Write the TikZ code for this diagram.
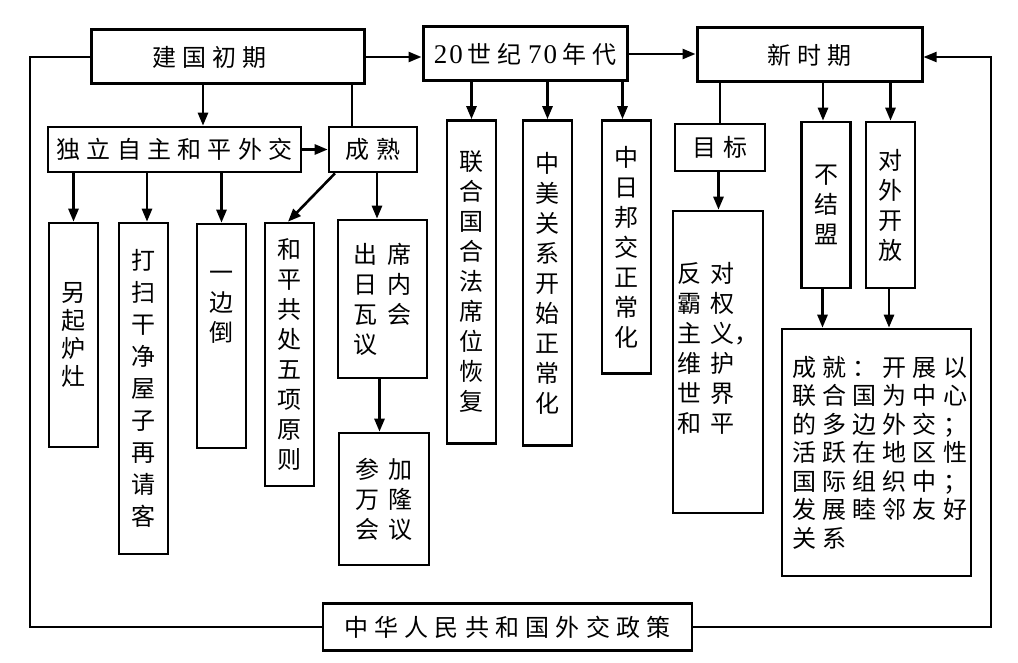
\documentclass[tikz,border=0pt]{standalone}
\usepackage{fontspec}
\newfontfamily\cjk{Noto Sans CJK SC}
\newfontfamily\cjksp[LetterSpace=26]{Noto Sans CJK SC}
\newfontfamily\numf{Liberation Serif}
\usepackage{tikz}
\usetikzlibrary{arrows.meta,positioning}
\newcommand{\cgap}{\hspace{10pt}}

\begin{document}
\begin{tikzpicture}[x=1pt,y=-1pt]
\tikzset{box/.style={draw,line width=2.6pt,inner sep=0pt,font=\cjksp\fontsize{24}{30}\selectfont}}
\tikzset{topbox/.style={box,line width=3pt}}
\tikzset{vbox/.style={draw,line width=2.6pt,inner sep=0pt,minimum width=49pt,align=center,font=\cjk\fontsize{24}{30}\selectfont}}
\tikzset{wbox/.style={vbox,minimum width=89pt,align=left}}
\tikzset{arr/.style={line width=2.6pt,-{Triangle[length=13pt,width=10pt]}}}
\tikzset{link/.style={line width=2.6pt}}
\tikzset{outerline/.style={line width=2pt}}
\useasboundingbox (0,0) rectangle (1018,663);

\node[topbox,minimum width=273pt,minimum height=54pt] (jg) at (227.5,57) {建国初期\hspace*{36pt}};
\node[topbox,minimum width=204pt,minimum height=54pt] (nd) at (525,54) {{\numf\fontsize{27}{30}\selectfont 2\hspace{2pt}0}\hspace{5pt}世纪\hspace{6pt}{\numf\fontsize{27}{30}\selectfont 7\hspace{2pt}0}\hspace{5pt}年代};
\node[topbox,minimum width=225pt,minimum height=54pt] (xs) at (809.5,55) {新时期};
\node[box,minimum width=369pt,minimum height=47pt] (zc) at (507.5,627) {中华人民共和国外交政策};

\node[box,minimum width=253pt,minimum height=45pt] (dl) at (174.5,149.5) {独立自主和平外交};
\node[box,minimum width=88pt,minimum height=45pt] (cs) at (373,149.5) {成熟};
\node[vbox,minimum height=224pt,font=\cjk\fontsize{24}{28}\selectfont] (ls) at (73.5,335) {另\\起\\炉\\灶};
\node[vbox,minimum height=331pt,font=\cjk\fontsize{24}{32}\selectfont] (ds) at (143.5,388.5) {打\\扫\\干\\净\\屋\\子\\再\\请\\客};
\node[vbox,minimum height=224pt] (yb) at (221.5,336) {一\\边\\倒\\~\\~};
\node[vbox,minimum height=263pt] (hp) at (289.5,354.5) {和\\平\\共\\处\\五\\项\\原\\则};
\node[wbox,minimum height=158pt] (cx) at (382.5,299) {出\cgap 席\\日\cgap 内\\瓦\cgap 会\\议};
\node[wbox,minimum width=90pt,minimum height=132pt] (cj) at (384,499) {参\cgap 加\\万\cgap 隆\\会\cgap 议};

\node[vbox,minimum height=323pt] (lh) at (471.5,282) {联\\合\\国\\合\\法\\席\\位\\恢\\复};
\node[vbox,minimum height=325pt] (zm) at (547.5,283) {中\\美\\关\\系\\开\\始\\正\\常\\化};
\node[vbox,minimum height=253pt] (zr) at (626.5,247) {中\\日\\邦\\交\\正\\常\\化};

\node[box,minimum width=90pt,minimum height=47pt] (mb) at (720,147.5) {目标};
\node[wbox,minimum width=90pt,minimum height=302pt] (fd) at (718,362) {反\cgap 对\\霸\cgap 权\\主\cgap 义，\\维\cgap 护\\世\cgap 界\\和\cgap 平\\~};
\node[vbox,minimum height=166pt] (bj) at (826,205) {不\\结\\盟};
\node[vbox,minimum height=166pt] (dw) at (890.5,205) {对\\外\\开\\放};
\node[vbox,minimum height=247pt,text width=169pt,inner xsep=10pt,align=left,font=\cjksp\fontsize{24}{28.5}\selectfont] (cjn) at (876.5,452.5) {成就：开展以\\联合国为中心\\的多边外交；\\活跃在地区性\\国际组织中；\\发展睦邻友好\\关系};

\coordinate (lt) at (30,57);
\coordinate (rt) at (991,57);

\draw[arr] (jg.east) -- (jg.east -| nd.west);
\draw[arr] (nd.east) -- (nd.east -| xs.west);
\draw[arr] ([xshift=-24.5pt]jg.south) -- ([xshift=-24.5pt]jg.south |- dl.north);
\draw[link] ([xshift=124.5pt]jg.south) -- ([xshift=124.5pt]jg.south |- cs.north);
\draw[arr] (dl.east) -- (cs.west);
\draw[arr] (ls.north |- dl.south) -- (ls.north);
\draw[arr] ([xshift=3.5pt]ds.north |- dl.south) -- ([xshift=3.5pt]ds.north);
\draw[arr] (yb.north |- dl.south) -- (yb.north);
\draw[arr] ([xshift=-38pt]cs.south) -- ([xshift=-1.5pt]hp.north);
\draw[arr] ([xshift=4pt]cs.south) -- ([xshift=4pt]cs.south |- cx.north);
\draw[arr] ([xshift=-3pt]cx.south) -- ([xshift=-3pt]cx.south |- cj.north);
\draw[arr] (lh.north |- nd.south) -- (lh.north);
\draw[arr] (zm.north |- nd.south) -- (zm.north);
\draw[arr] ([xshift=-4pt]zr.north |- nd.south) -- ([xshift=-4pt]zr.north);
\draw[link] (mb.north |- xs.south) -- (mb.north);
\draw[arr] ([xshift=-1.5pt]mb.south) -- ([xshift=-1.5pt]mb.south |- fd.north);
\draw[arr] ([xshift=-3pt]bj.north |- xs.south) -- ([xshift=-3pt]bj.north);
\draw[arr] (dw.north |- xs.south) -- (dw.north);
\draw[arr] ([xshift=-3.5pt]bj.south) -- ([xshift=-3.5pt]bj.south |- cjn.north);
\draw[arr] ([xshift=-1.5pt]dw.south) -- ([xshift=-1.5pt]dw.south |- cjn.north);
\draw[outerline] (jg.west) -- (lt) |- (zc.west);
\draw[outerline,-{Triangle[length=13pt,width=10pt]}] (zc.east) -| (rt) -- (xs.east |- rt);
\end{tikzpicture}
\end{document}
